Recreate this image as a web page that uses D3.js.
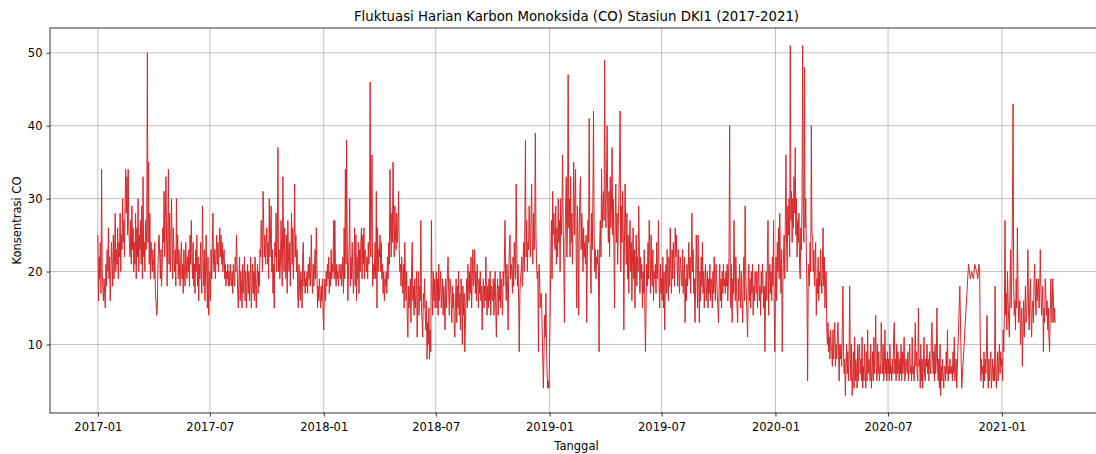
<!DOCTYPE html>
<html>
<head>
<meta charset="utf-8">
<script src="https://cdn.jsdelivr.net/npm/d3@7"></script>
<style>
  html, body { margin: 0; padding: 0; background: #ffffff; }
  svg { display: block; font-family: "DejaVu Sans", sans-serif; }
</style>
</head>
<body>
<svg id="chart" width="1096" height="454"></svg>
<script>
// Text
const chartTitle = "Fluktuasi Harian Karbon Monoksida (CO) Stasiun DKI1 (2017-2021)";
const xLabel = "Tanggal";
const yLabel = "Konsentrasi CO";
const yTicks = [10, 20, 30, 40, 50];
const xTickLabels = ["2017-01", "2017-07", "2018-01", "2018-07", "2019-01", "2019-07", "2020-01", "2020-07", "2021-01"];

// Daily CO readings, one array per year starting on 1 January (null = no reading)
const co2017 = [
  25,16,22,19,24,17,34,20,18,16,19,17,15,21,18,23,20,26,19,22,16,20,24,21,18,25,19,22,28,20,23,
  21,26,19,24,22,28,20,25,23,30,24,27,22,29,34,28,33,25,34,26,24,22,27,21,29,23,26,20,
  24,21,28,19,26,22,30,20,25,23,27,21,29,19,33,22,24,20,27,23,26,50,24,35,21,28,19,24,22,20,23,
  21,19,24,17,16,14,15,20,24,25,22,19,23,18,21,26,24,31,22,27,33,25,18,26,34,21,28,20,23,30,
  24,19,26,22,20,23,18,30,21,25,19,23,20,18,22,24,19,21,17,23,20,18,24,21,19,22,20,23,18,25,21,
  27,22,19,24,18,21,17,23,20,25,18,22,16,21,19,24,20,17,29,22,18,23,16,20,25,19,15,22,14,18,
  20,16,23,19,24,28,21,20,23,19,22,25,21,24,20,23,26,22,25,21,24,20,22,23,19,21,18,20,19,21,18,
  20,18,21,19,18,20,17,21,19,18,22,20,25,21,17,15,19,22,16,20,18,15,21,17,19,22,16,20,15,18,21,
  17,20,16,19,22,15,18,21,17,20,16,22,18,15,19,21,17,20,18,23,22,27,24,20,31,26,22,25,21,24,
  26,21,24,19,30,22,25,29,20,23,17,21,15,24,22,28,20,25,37,20,23,19,21,27,22,18,33,24,20,26,21,
  19,25,17,27,22,20,24,18,23,28,21,26,19,24,32,22,25,20,23,17,15,21,18,16,20,19,15,22,24,18,
  20,17,19,18,20,17,21,19,22,18,20,25,19,17,21,18,20,23,19,26,21,15,18,16,19,17,15,18,16,19,14
];
const co2018 = [
  12,17,19,16,20,18,21,19,22,17,20,18,23,19,21,20,27,19,27,20,18,21,19,20,18,21,20,19,21,18,20,
  22,17,26,19,34,21,38,24,16,20,23,30,18,22,19,24,20,17,21,26,18,25,16,22,19,24,17,23,
  20,24,26,19,25,21,26,19,23,22,20,22,19,24,21,25,46,22,27,36,18,21,19,20,24,19,31,15,26,20,23,
  22,25,20,24,19,21,17,20,16,19,18,20,17,22,19,24,21,34,26,22,28,24,35,27,22,29,25,23,28,24,
  26,31,23,20,21,18,22,19,17,21,15,24,19,16,20,14,11,18,15,17,19,13,20,24,16,18,14,19,15,17,20,
  11,17,20,14,18,16,27,15,13,11,17,15,19,14,12,16,8,13,10,15,8,12,9,27,18,14,20,16,19,15,
  17,20,15,19,14,21,16,18,20,15,17,19,14,18,16,12,19,15,17,20,22,17,14,19,18,16,13,18,15,17,12,
  11,16,19,13,18,15,20,14,17,12,19,16,10,18,14,17,9,13,16,19,15,21,18,16,20,17,22,15,19,23,18,
  19,23,17,20,16,21,18,15,19,17,20,16,18,12,17,19,15,18,16,22,17,14,18,15,19,16,20,14,18,17,
  16,19,14,18,20,15,11,17,19,14,18,16,20,15,19,17,14,20,18,22,27,19,16,21,18,12,20,23,25,19,21,
  20,17,22,18,24,21,19,32,23,18,21,16,9,17,19,20,22,18,21,24,20,26,38,22,27,20,24,23,29,25,
  22,27,32,24,21,28,23,26,39,25,21,19,20,9,21,19,15,17,17,12,8,4,9,14,11,17,10,6,4,5,4
];
const co2019 = [
  9,15,22,27,19,31,25,28,24,23,29,21,26,22,30,24,27,20,30,25,28,36,26,21,13,24,29,33,22,27,47,
  26,30,22,33,24,28,21,27,35,25,30,34,22,15,29,24,14,26,31,33,23,28,25,20,26,22,24,21,
  25,13,22,27,24,41,26,21,17,28,23,30,42,25,20,23,19,22,21,23,20,9,24,27,22,34,26,29,31,27,49,
  30,26,33,40,28,24,31,22,33,26,29,37,25,30,23,15,27,32,24,28,21,26,30,35,42,20,29,24,31,26,
  12,24,32,26,21,28,19,25,17,23,27,20,24,16,22,26,19,23,15,21,25,18,22,20,29,24,17,22,19,21,15,
  20,17,23,14,9,16,21,18,24,19,27,22,17,25,20,18,23,16,20,19,21,17,24,19,22,27,18,15,21,17,
  19,16,22,15,20,12,18,21,17,23,19,16,22,18,26,20,17,23,19,24,21,18,26,22,25,21,18,23,20,17,22,
  21,19,18,23,17,20,22,13,19,16,21,18,20,24,19,22,17,21,28,20,23,17,19,13,18,25,21,15,25,19,13,
  20,16,22,18,24,17,20,15,19,21,16,18,20,15,19,17,21,16,19,18,15,20,17,22,18,16,21,19,17,15,
  13,18,21,16,19,15,20,17,21,18,19,17,20,18,21,16,19,22,40,18,15,21,13,19,17,27,20,16,22,18,15,
  13,19,16,21,18,15,20,17,13,19,22,16,29,20,17,14,11,18,21,16,19,15,20,17,21,14,18,16,20,19,
  17,20,15,19,21,16,18,14,20,17,21,19,15,18,9,17,20,16,22,27,14,19,21,17,20,16,22,18,27,15,9
];
const co2020 = [
  18,22,16,24,20,26,19,28,21,17,23,9,18,22,25,19,27,36,24,20,29,25,30,22,51,27,31,24,30,26,33,
  28,37,25,30,22,27,24,28,21,19,26,23,30,51,28,24,48,26,30,22,17,5,19,21,18,24,20,40,25,
  25,20,23,18,21,24,14,19,17,22,16,20,18,23,19,17,21,26,18,22,15,19,20,12,10,13,9,11,8,12,10,
  9,7,12,8,11,13,7,10,8,11,13,9,5,10,8,10,7,12,18,9,6,8,3,7,10,6,9,5,8,18,
  8,5,10,3,6,9,4,11,5,8,6,4,10,5,9,10,6,8,5,11,4,7,5,10,6,4,9,5,12,6,8,
  7,5,10,4,6,9,5,11,6,8,14,7,5,10,6,9,5,7,6,13,8,6,10,5,7,12,6,8,5,9,
  6,8,5,10,6,7,5,8,6,11,13,6,8,5,10,6,9,7,5,8,6,10,5,9,6,8,11,5,6,8,7,
  6,9,5,7,10,6,7,5,11,6,7,5,8,13,7,9,6,5,15,7,8,4,10,5,8,4,7,11,6,5,8,
  7,10,6,8,5,9,7,6,11,13,8,6,9,5,10,6,8,15,7,5,8,4,10,3,7,5,8,6,4,7,
  7,5,9,6,12,5,7,6,8,6,6,7,5,9,6,11,5,7,8,4,null,null,null,null,18,null,null,4,null,null,null,
  null,null,null,null,null,null,null,21,null,null,19,null,20,null,null,19,null,21,null,null,20,null,19,null,21,20,10,5,8,6,
  7,4,9,5,8,6,9,14,6,4,8,5,7,9,4,6,8,5,7,5,18,6,4,7,9,5,8,10,6,9,7
];
const co2021 = [
  8,5,12,9,15,27,14,17,12,20,16,13,11,18,23,15,20,29,43,18,14,16,12,19,15,26,18,13,14,16,10,
  13,15,7,12,16,11,14,18,13,14,17,23,15,12,16,19,14,11,15,16,13,19,21,17,14,19,16,18,
  19,15,17,23,18,14,16,18,9,15,13,19,17,14,16,12,15,11,9,14,19,16,13,19,17,13,15,13
];

const yearlyReadings = [[2017, co2017], [2018, co2018], [2019, co2019], [2020, co2020], [2021, co2021]];

const series = [];
yearlyReadings.forEach(([year, values]) => {
  const jan1 = new Date(Date.UTC(year, 0, 1));
  values.forEach((v, i) => {
    if (v !== null) series.push({ date: d3.utcDay.offset(jan1, i), value: v });
  });
});

// Layout
const area = { left: 50, top: 28, right: 1103, bottom: 413 };
const svg = d3.select("#chart");

// Scales with 5% padding around the data
const [t0, t1] = d3.extent(series, d => d.date);
const tPad = (t1 - t0) * 0.05;
const x = d3.scaleUtc()
  .domain([new Date(+t0 - tPad), new Date(+t1 + tPad)])
  .range([area.left, area.right]);

const [v0, v1] = d3.extent(series, d => d.value);
const vPad = (v1 - v0) * 0.05;
const y = d3.scaleLinear()
  .domain([v0 - vPad, v1 + vPad])
  .range([area.bottom, area.top]);

const xTicks = xTickLabels.map(s => d3.utcParse("%Y-%m")(s));

svg.append("defs").append("clipPath").attr("id", "plotClip")
  .append("rect")
  .attr("x", area.left).attr("y", area.top)
  .attr("width", area.right - area.left).attr("height", area.bottom - area.top);

// Grid
const grid = svg.append("g").attr("clip-path", "url(#plotClip)");
grid.selectAll("line.gx").data(xTicks).join("line")
  .attr("class", "gx")
  .attr("x1", d => x(d)).attr("x2", d => x(d))
  .attr("y1", area.top).attr("y2", area.bottom)
  .attr("stroke", "#b0b0b0").attr("stroke-width", 0.8);
grid.selectAll("line.gy").data(yTicks).join("line")
  .attr("class", "gy")
  .attr("x1", area.left).attr("x2", area.right)
  .attr("y1", d => y(d)).attr("y2", d => y(d))
  .attr("stroke", "#b0b0b0").attr("stroke-width", 0.8);

// Series line
const line = d3.line()
  .x(d => x(d.date))
  .y(d => y(d.value));

svg.append("g").attr("clip-path", "url(#plotClip)")
  .append("path")
  .datum(series)
  .attr("d", line)
  .attr("fill", "none")
  .attr("stroke", "#d62728")
  .attr("stroke-width", 1)
  .attr("stroke-linejoin", "round");

// Frame
svg.append("rect")
  .attr("x", area.left).attr("y", area.top)
  .attr("width", area.right - area.left).attr("height", area.bottom - area.top)
  .attr("fill", "none").attr("stroke", "#000").attr("stroke-width", 0.8);

// Axes
const fmt = d3.utcFormat("%Y-%m");
const xAxis = svg.append("g")
  .attr("transform", `translate(0,${area.bottom})`)
  .call(d3.axisBottom(x).tickValues(xTicks).tickFormat(fmt).tickSize(3.5).tickPadding(6));
const yAxis = svg.append("g")
  .attr("transform", `translate(${area.left},0)`)
  .call(d3.axisLeft(y).tickValues(yTicks).tickSize(3.5).tickPadding(4));

[xAxis, yAxis].forEach(g => {
  g.select(".domain").remove();
  g.selectAll(".tick line").attr("stroke", "#000").attr("stroke-width", 0.8);
  g.selectAll(".tick text")
    .attr("fill", "#000")
    .style("font-family", "'DejaVu Sans', sans-serif")
    .style("font-size", "11.5px");
});

// Titles
const cx = (area.left + area.right) / 2;
svg.append("text")
  .attr("x", cx).attr("y", 21)
  .attr("text-anchor", "middle")
  .style("font-size", "13.3px")
  .attr("fill", "#000")
  .text(chartTitle);

svg.append("text")
  .attr("x", cx).attr("y", 450)
  .attr("text-anchor", "middle")
  .style("font-size", "11.5px")
  .attr("fill", "#000")
  .text(xLabel);

svg.append("text")
  .attr("transform", `translate(21,${(area.top + area.bottom) / 2}) rotate(-90)`)
  .attr("text-anchor", "middle")
  .style("font-size", "11.5px")
  .attr("fill", "#000")
  .text(yLabel);
</script>
</body>
</html>
